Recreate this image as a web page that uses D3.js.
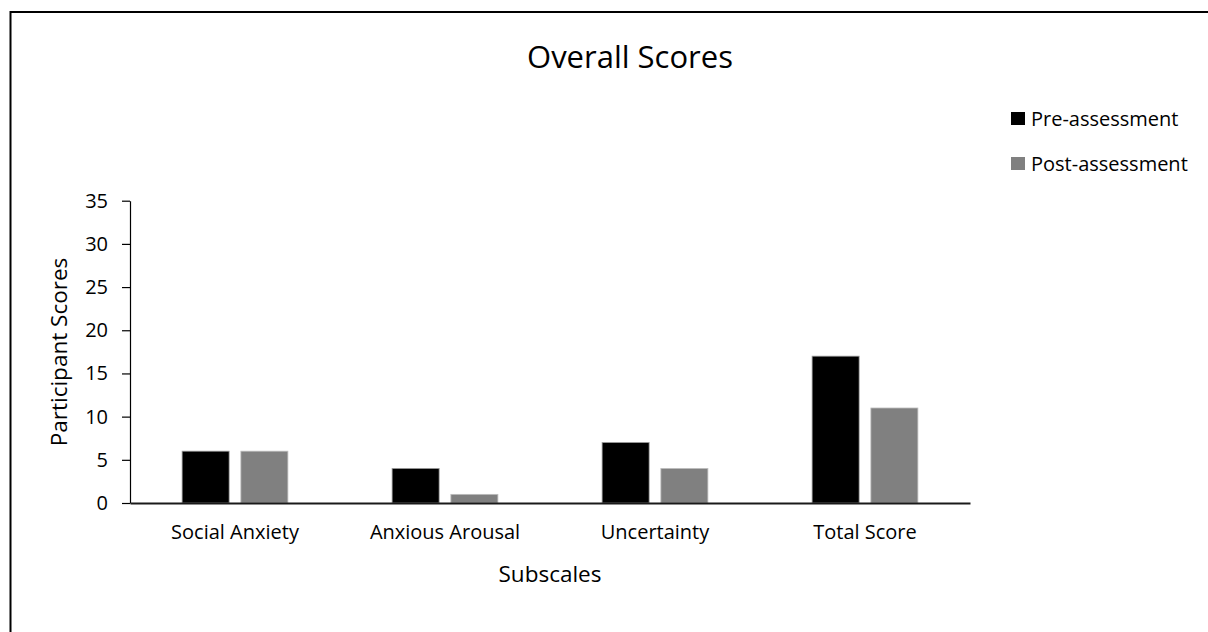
<!DOCTYPE html>
<html>
<head>
<meta charset="utf-8">
<script src="https://cdn.jsdelivr.net/npm/d3@7"></script>
<style>
  body { margin: 0; background: #fff; }
  text { font-family: "Open Sans", "Noto Sans", sans-serif; fill: #000; }
</style>
</head>
<body>
<div class="mydiv"></div>
<script>
// data
var categories = ["Social Anxiety", "Anxious Arousal", "Uncertainty", "Total Score"];
var seriesNames = ["Pre-assessment", "Post-assessment"];
var preValues = [6, 4, 7, 17];
var postValues = [6, 1, 4, 11];
var yTicks = [0, 5, 10, 15, 20, 25, 30, 35];

var width = 1208;
var height = 632;
var colors = { "Pre-assessment": "#000000", "Post-assessment": "#808080" };
var edges = { "Pre-assessment": "#9a9a9a", "Post-assessment": "#bdbdbd" };

var svg = d3.select(".mydiv").append("svg")
    .attr("width", width)
    .attr("height", height);

// chart frame (runs past the right and bottom edge of the picture)
svg.append("rect")
    .attr("x", 10.5)
    .attr("y", 12)
    .attr("width", 1260)
    .attr("height", 700)
    .attr("fill", "#fff")
    .attr("stroke", "#000")
    .attr("stroke-width", 2);

//---------------------------------------- scales ----------------------------------------
var x0 = d3.scaleBand()
    .domain(categories)
    .range([130, 970])
    .padding(0);

var x1 = d3.scaleBand()
    .domain(seriesNames)
    .range([0, x0.bandwidth()])
    .paddingInner(0.2)
    .paddingOuter(0.887);

var y = d3.scaleLinear()
    .domain([0, 35])
    .range([503, 200.7]);

var rows = categories.map(function(c, i) {
    return { cat: c, vals: [
        { name: "Pre-assessment", v: preValues[i] },
        { name: "Post-assessment", v: postValues[i] }
    ] };
});

//---------------------------------------- bars ----------------------------------------
var groups = svg.append("g").selectAll("g")
    .data(rows)
    .enter().append("g")
    .attr("transform", function(d) { return "translate(" + x0(d.cat) + ",0)"; });

groups.selectAll("rect")
    .data(function(d) { return d.vals; })
    .enter().append("rect")
    .attr("x", function(d) { return x1(d.name); })
    .attr("y", function(d) { return y(d.v); })
    .attr("width", x1.bandwidth())
    .attr("height", function(d) { return y(0) - y(d.v); })
    .attr("fill", function(d) { return colors[d.name]; })
    .attr("stroke", function(d) { return edges[d.name]; })
    .attr("stroke-width", 0.8);

//---------------------------------------- axes ----------------------------------------
var yAxis = svg.append("g")
    .attr("transform", "translate(130,0)")
    .call(d3.axisLeft(y).tickValues(yTicks).tickSize(8).tickPadding(14).tickSizeOuter(0));
yAxis.select(".domain").attr("stroke", "#000").attr("stroke-width", 1.2);
yAxis.selectAll(".tick line").attr("stroke", "#000").attr("stroke-width", 1.2);
yAxis.selectAll(".tick text")
    .style("font-size", "20px")
    .attr("fill", "#000");

var xAxis = svg.append("g")
    .attr("transform", "translate(0,503)")
    .call(d3.axisBottom(x0).tickSize(0).tickPadding(22).tickSizeOuter(0));
xAxis.select(".domain").attr("stroke", "#1a1a1a").attr("stroke-width", 2);
xAxis.selectAll(".tick text")
    .style("font-size", "20px")
    .attr("fill", "#000");

//---------------------------------------- titles ----------------------------------------
svg.append("text")
    .attr("x", 630)
    .attr("y", 68)
    .attr("text-anchor", "middle")
    .style("font-size", "31px")
    .text("Overall Scores");

svg.append("text")
    .attr("x", 550)
    .attr("y", 582)
    .attr("text-anchor", "middle")
    .style("font-size", "22.5px")
    .text("Subscales");

svg.append("text")
    .attr("transform", "translate(67,352) rotate(-90)")
    .attr("text-anchor", "middle")
    .style("font-size", "22.5px")
    .text("Participant Scores");

//---------------------------------------- legend ----------------------------------------
var legend = svg.append("g").selectAll("g")
    .data(seriesNames)
    .enter().append("g")
    .attr("transform", function(d, i) { return "translate(1011," + (112 + i * 45) + ")"; });

legend.append("rect")
    .attr("width", 14)
    .attr("height", 13)
    .attr("fill", function(d) { return colors[d]; });

legend.append("text")
    .attr("x", 20)
    .attr("y", 13.5)
    .style("font-size", "20px")
    .text(function(d) { return d; });
</script>
</body>
</html>
